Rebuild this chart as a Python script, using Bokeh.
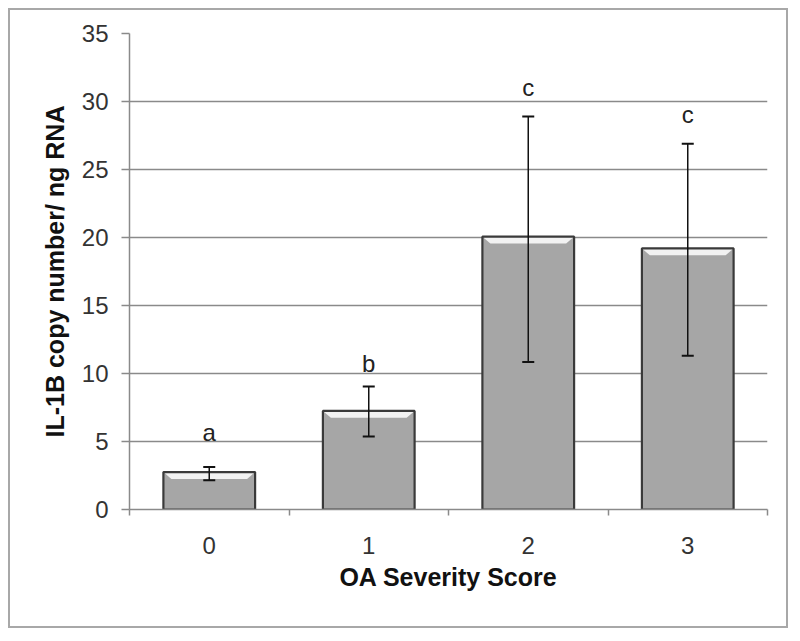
from bokeh.plotting import figure
from bokeh.models import ColumnDataSource, Whisker, TeeHead, FixedTicker, Range1d
from bokeh.core.properties import value
from bokeh.embed import file_html
from bokeh.resources import INLINE

# ---- data ----
scores = [0, 1, 2, 3]
score_labels = ["0", "1", "2", "3"]
means = [2.75, 7.25, 20.06, 19.2]
err_low = [2.15, 5.36, 10.85, 11.3]
err_high = [3.13, 9.04, 28.9, 26.9]
letters = ["a", "b", "c", "c"]
letter_y = [5.02, 10.09, 30.4, 28.4]
y_ticks = [0, 5, 10, 15, 20, 25, 30, 35]
category_edges = [-0.5, 0.5, 1.5, 2.5, 3.5]

FONT = "Liberation Sans"
BAR_W = 0.575

src = ColumnDataSource(dict(x=scores, top=means, lo=err_low, hi=err_high))

# bevel highlight polygons derived from the data
bev_xs, bev_ys = [], []
for x, m in zip(scores, means):
    h = 0.5
    inset = 0.05
    bev_xs.append([x - BAR_W / 2, x + BAR_W / 2, x + BAR_W / 2 - inset, x - BAR_W / 2 + inset])
    bev_ys.append([m, m, m - h, m - h])

p = figure(width=780, height=620, output_backend="svg", toolbar_location=None,
           x_range=Range1d(-0.5, 3.5), y_range=Range1d(0, 35),
           min_border_left=119, min_border_right=23, min_border_top=23,
           min_border_bottom=121)
p.styles = {"border": "2px solid #a8a8a8", "margin-left": "8px", "margin-top": "8px"}
p.outline_line_color = None
p.background_fill_color = "white"
p.border_fill_color = "white"

# bars
p.vbar(x="x", top="top", bottom=0, width=BAR_W, source=src,
       fill_color="#a6a6a6", line_color=None)
p.patches(bev_xs, bev_ys, fill_color="#f2f2f2", line_color=None)
p.vbar(x="x", top="top", bottom=0, width=BAR_W, source=src,
       fill_color=None, line_color="#3a3a3a", line_width=2.2)

# error bars
wh = Whisker(base="x", lower="lo", upper="hi", source=src, level="annotation",
             line_color="#111111", line_width=1.5,
             upper_head=TeeHead(size=12, line_color="#111111", line_width=2),
             lower_head=TeeHead(size=12, line_color="#111111", line_width=2))
p.add_layout(wh)

# significance letters (baseline sits at letter_y)
p.text(x=scores, y=letter_y, text=letters, text_font=value(FONT),
       text_font_size="24px", text_color="#222222",
       text_align="center", text_baseline="bottom", y_offset=5)

# y axis
p.yaxis.ticker = FixedTicker(ticks=y_ticks)
p.yaxis.axis_line_color = "#8a8a8a"
p.yaxis.axis_line_width = 1.5
p.yaxis.major_tick_line_color = "#8a8a8a"
p.yaxis.major_tick_line_width = 1.5
p.yaxis.major_tick_out = 8
p.yaxis.major_tick_in = 0
p.yaxis.minor_tick_line_color = None
p.yaxis.major_label_standoff = 13
p.yaxis.major_label_text_font = FONT
p.yaxis.major_label_text_font_size = "24px"
p.yaxis.major_label_text_color = "#333333"
p.yaxis.axis_label = "IL-1B copy number/ ng RNA"
p.yaxis.axis_label_text_font = FONT
p.yaxis.axis_label_text_font_size = "25px"
p.yaxis.axis_label_text_font_style = "bold"
p.yaxis.axis_label_text_color = "#111111"
p.yaxis.axis_label_standoff = 10

# x axis
p.xaxis.ticker = FixedTicker(ticks=scores, minor_ticks=category_edges)
p.xaxis.major_label_overrides = {s: l for s, l in zip(scores, score_labels)}
p.xaxis.axis_line_color = "#8a8a8a"
p.xaxis.axis_line_width = 1.5
p.xaxis.major_tick_line_color = None
p.xaxis.major_tick_out = 0
p.xaxis.major_tick_in = 0
p.xaxis.minor_tick_line_color = "#8a8a8a"
p.xaxis.minor_tick_line_width = 1.5
p.xaxis.minor_tick_out = 6
p.xaxis.minor_tick_in = 0
p.xaxis.major_label_standoff = 21
p.xaxis.major_label_text_font = FONT
p.xaxis.major_label_text_font_size = "24px"
p.xaxis.major_label_text_color = "#333333"
p.xaxis.axis_label = "OA Severity Score"
p.xaxis.axis_label_text_font = FONT
p.xaxis.axis_label_text_font_size = "25px"
p.xaxis.axis_label_text_font_style = "bold"
p.xaxis.axis_label_text_color = "#111111"
p.xaxis.axis_label_standoff = 6

# grid
p.xgrid.grid_line_color = None
p.ygrid.ticker = FixedTicker(ticks=y_ticks)
p.ygrid.grid_line_color = "#8a8a8a"
p.ygrid.grid_line_width = 1.5

open("out.html", "w").write(file_html(p, INLINE))
